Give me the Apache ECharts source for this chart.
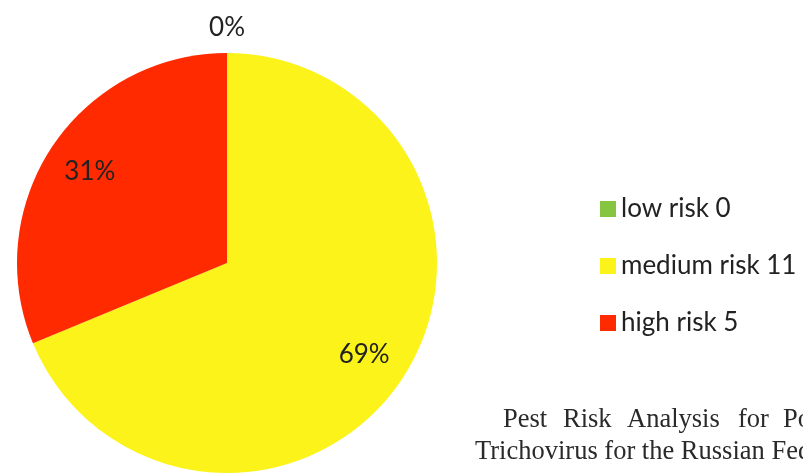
<!DOCTYPE html>
<html>
<head>
<meta charset="utf-8">
<script src="https://cdn.jsdelivr.net/npm/echarts@6/dist/echarts.min.js"></script>
<style>
  html, body { margin: 0; padding: 0; background: #ffffff; }
  #chart { width: 803px; height: 476px; }
</style>
</head>
<body>
<div id="chart"></div>
<script>
// Risk categories and the number of pests in each
const categories = ['low risk', 'medium risk', 'high risk'];
const counts = [0, 11, 5];
const colors = ['#86c540', '#fbf31a', '#ff2a00'];

// Caption from the surrounding page text: the first line is justified word by word
const captionWords = ['Pest', 'Risk', 'Analysis', 'for', 'Potato'];
const captionWordX = [503, 563, 627, 738, 783];
const captionLine2 = 'Trichovirus for the Russian Federation';

const total = counts.reduce((a, b) => a + b, 0);
const pct = v => Math.round(v / total * 100) + '%';

const CX = 227, CY = 263, R = 210;
const labelFont = { fontFamily: 'Lato', fontSize: 26, color: '#222222' };
const captionStyle = { fontFamily: 'Liberation Serif', fontSize: 26.5, fill: '#2a2a2a' };

const pieData = categories.map((name, i) => ({
  name: name,
  value: counts[i],
  itemStyle: { color: colors[i] }
}));

// Ring used only to carry the percentage labels further out from the centre
const labelData = categories.map((name, i) => ({
  name: name,
  value: counts[i],
  label: counts[i] === 0 ? { show: false } : { show: true }
}));

const chart = echarts.init(document.getElementById('chart'), null, { renderer: 'canvas' });

const caption = captionWords.map((w, i) => ({
  type: 'text',
  left: captionWordX[i],
  top: 407,
  style: Object.assign({ text: w }, captionStyle)
}));
caption.push({
  type: 'text',
  left: 475,
  top: 439,
  style: Object.assign({ text: captionLine2 }, captionStyle)
});

chart.setOption({
  animation: false,
  backgroundColor: '#ffffff',
  legend: {
    orient: 'vertical',
    left: 595,
    top: 191,
    itemWidth: 16,
    itemHeight: 16,
    itemGap: 31,
    icon: 'rect',
    data: categories,
    formatter: name => name + ' ' + counts[categories.indexOf(name)],
    textStyle: { fontFamily: 'Lato', fontSize: 26, color: '#222222' }
  },
  series: [
    {
      type: 'pie',
      center: [CX, CY],
      radius: [0, R],
      startAngle: 90,
      clockwise: true,
      minAngle: 0,
      avoidLabelOverlap: false,
      stillShowZeroSum: true,
      silent: true,
      data: pieData.map((d, i) => Object.assign({}, d, {
        label: counts[i] === 0
          ? { show: true, position: 'outside', distanceToLabelLine: -18 }
          : { show: false }
      })),
      label: Object.assign({
        formatter: p => pct(p.value)
      }, labelFont),
      labelLine: { show: false, length: 25, length2: 0 },
      emphasis: { disabled: true }
    },
    {
      type: 'pie',
      center: [CX, CY],
      radius: [114, R],
      startAngle: 90,
      clockwise: true,
      silent: true,
      legendHoverLink: false,
      data: labelData,
      itemStyle: { color: 'rgba(0,0,0,0)' },
      label: Object.assign({
        position: 'inside',
        formatter: p => pct(p.value)
      }, labelFont),
      labelLine: { show: false },
      emphasis: { disabled: true }
    }
  ],
  graphic: caption
});
</script>
</body>
</html>
